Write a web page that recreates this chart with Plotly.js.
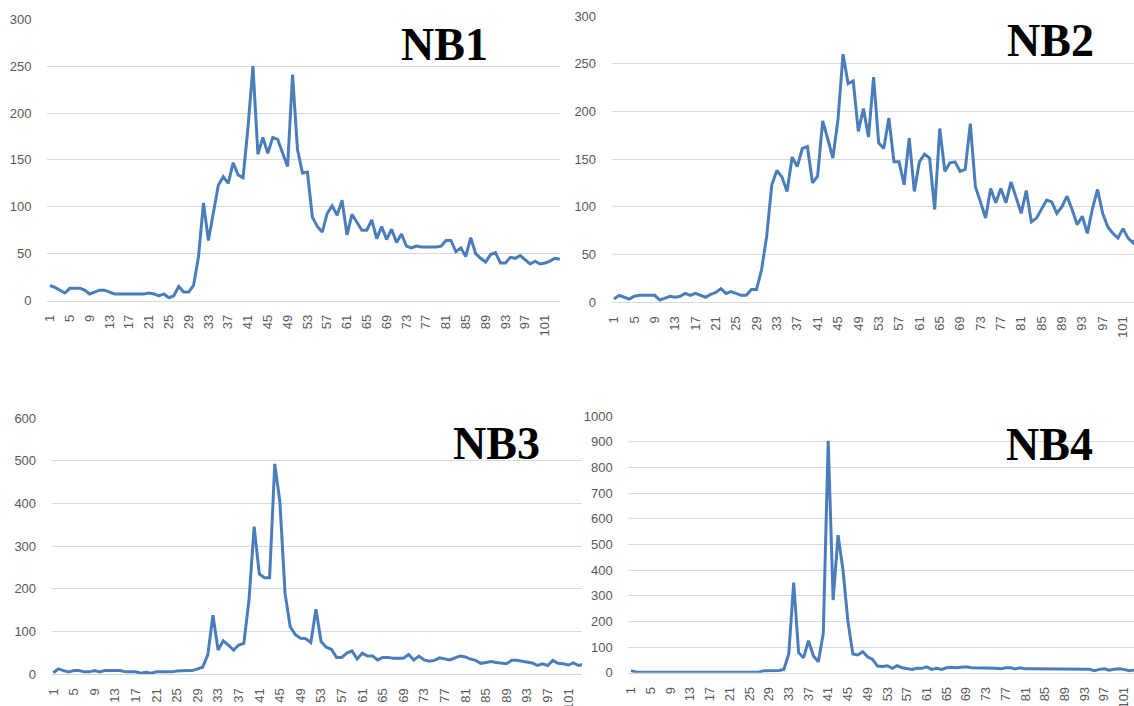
<!DOCTYPE html>
<html>
<head>
<meta charset="utf-8">
<script src="https://cdn.plot.ly/plotly-3.0.1.min.js"></script>
<style>
html,body{margin:0;padding:0;background:#fff;}
#chart{width:1134px;height:706px;}
</style>
</head>
<body>
<div id="chart"></div>
<script>
// Category index (sample number) shared by all four panels
var samples = [1,2,3,4,5,6,7,8,9,10,11,12,13,14,15,16,17,18,19,20,21,22,23,24,25,26,27,28,29,30,
31,32,33,34,35,36,37,38,39,40,41,42,43,44,45,46,47,48,49,50,51,52,53,54,55,56,57,58,59,60,
61,62,63,64,65,66,67,68,69,70,71,72,73,74,75,76,77,78,79,80,81,82,83,84,85,86,87,88,89,90,
91,92,93,94,95,96,97,98,99,100,101,102,103,104];

var xTickVals = [1,5,9,13,17,21,25,29,33,37,41,45,49,53,57,61,65,69,73,77,81,85,89,93,97,101];
var xTickText = ["1","5","9","13","17","21","25","29","33","37","41","45","49","53","57","61","65","69","73","77","81","85","89","93","97","101"];

var panelTitles = ["NB1","NB2","NB3","NB4"];

var nb1 = [16,14,11,8,13,13,13,11,7,9,11,11,9,7,7,7,7,7,7,7,
8,7,5,7,3,5,15,9,9,16,47,104,64,92,123,132,125,147,134,131,
185,250,156,174,157,174,172,157,143,241,161,136,137,89,79,73,93,101,91,107,
70,92,84,75,75,86,66,79,65,76,62,71,58,56,58,57,57,57,57,58,
64,64,52,56,47,67,50,45,41,49,51,40,40,46,45,48,44,39,42,39,
40,42,45,44];

var nb2 = [3,7,5,3,6,7,7,7,7,2,4,6,5,6,9,7,9,7,5,8,
10,14,9,11,9,7,7,13,13,34,69,123,138,131,116,152,142,161,163,125,
132,190,171,151,191,260,229,232,179,203,173,236,167,161,193,147,147,123,172,116,
147,155,151,97,182,137,146,147,137,139,187,121,105,88,119,104,119,104,126,109,
93,117,84,88,98,107,105,93,100,111,97,81,90,72,98,118,93,79,72,67,
77,67,62,70];

var nb3 = [3,12,8,5,8,8,5,5,8,5,8,8,8,8,5,5,5,2,4,2,
5,5,5,5,7,8,8,8,12,16,45,138,56,78,68,56,68,72,174,346,
235,226,226,493,404,189,111,92,84,83,74,152,76,63,58,39,39,49,54,35,
49,42,42,33,39,39,37,37,37,46,33,42,33,30,32,38,35,33,38,42,
40,35,32,25,27,29,27,26,24,32,32,30,28,26,20,24,20,32,25,24,
21,26,20,23];

var nb4 = [8,3,2,2,2,2,2,2,2,2,2,2,2,2,2,2,2,2,2,2,
2,2,2,2,2,2,3,8,9,9,9,13,73,351,78,58,125,65,43,153,
903,283,536,400,200,73,69,82,62,52,26,24,27,17,27,19,17,13,17,17,
23,13,17,13,19,21,19,21,23,19,19,19,19,19,17,15,19,19,15,19,
15,15,15,15,15,15,15,15,15,15,15,15,15,13,8,13,15,10,13,15,
13,8,10,15];

var W = 1134, H = 706;
function px(x){ return x / W; }
function py(y){ return 1 - y / H; }

var lineColor = '#4a7ebb';
var gridColor = '#d9d9d9';
var tickFont = {family: 'Liberation Sans, Arial, sans-serif', size: 13, color: '#595959'};

var series = [nb1, nb2, nb3, nb4];
var traces = series.map(function(s, i){
  var n = i === 0 ? '' : String(i + 1);
  return {
    x: samples, y: s, type: 'scatter', mode: 'lines',
    line: {color: lineColor, width: 3},
    xaxis: 'x' + n, yaxis: 'y' + n, hoverinfo: 'x+y'
  };
});

// panel geometry (pixels): plot left, right, top, bottom; x range; y range; y dtick
var panels = [
  {l: 47,    r: 560,  t: 19.3,  b: 300.5, xr: [0.39, 104.03], yr: [0, 300],  dt: 50},
  {l: 611.7, r: 1134, t: 16,    b: 302,   xr: [0.55, 103.16], yr: [0, 300],  dt: 50},
  {l: 51.7,  r: 582,  t: 418.3, b: 674,   xr: [0.69, 103.66], yr: [0, 600],  dt: 100},
  {l: 628.3, r: 1134, t: 416,   b: 672.7, xr: [0.45, 103.03], yr: [0, 1000], dt: 100}
];

var layout = {
  width: W, height: H,
  margin: {l: 0, r: 0, t: 0, b: 0},
  paper_bgcolor: '#ffffff', plot_bgcolor: '#ffffff',
  showlegend: false,
  annotations: []
};

panels.forEach(function(p, i){
  var n = i === 0 ? '' : String(i + 1);
  layout['xaxis' + n] = {
    domain: [px(p.l), px(p.r)], range: p.xr, anchor: 'y' + n,
    tickmode: 'array', tickvals: xTickVals, ticktext: xTickText,
    tickangle: -90, tickfont: tickFont,
    ticks: 'outside', ticklen: 8, tickcolor: 'rgba(0,0,0,0)',
    showgrid: false, zeroline: false,
    showline: true, linecolor: gridColor, linewidth: 1,
    fixedrange: true
  };
  layout['yaxis' + n] = {
    domain: [py(p.b), py(p.t)], range: p.yr, anchor: 'x' + n,
    dtick: p.dt, tick0: 0, tickfont: tickFont,
    ticks: 'outside', ticklen: 12, tickcolor: 'rgba(0,0,0,0)',
    showgrid: true, gridcolor: gridColor, gridwidth: 1,
    zeroline: false, showline: false,
    fixedrange: true
  };
});

var titlePos = [[444, 45], [1050, 40], [496, 443], [1049, 444]];
panelTitles.forEach(function(t, i){
  layout.annotations.push({
    text: '<b>' + t + '</b>', xref: 'paper', yref: 'paper',
    x: px(titlePos[i][0]), y: py(titlePos[i][1]),
    xanchor: 'center', yanchor: 'middle', showarrow: false,
    font: {family: 'Liberation Serif, Times New Roman, serif', size: 46, color: '#000000'}
  });
});

Plotly.newPlot('chart', traces, layout, {displayModeBar: false, staticPlot: true});
</script>
</body>
</html>
